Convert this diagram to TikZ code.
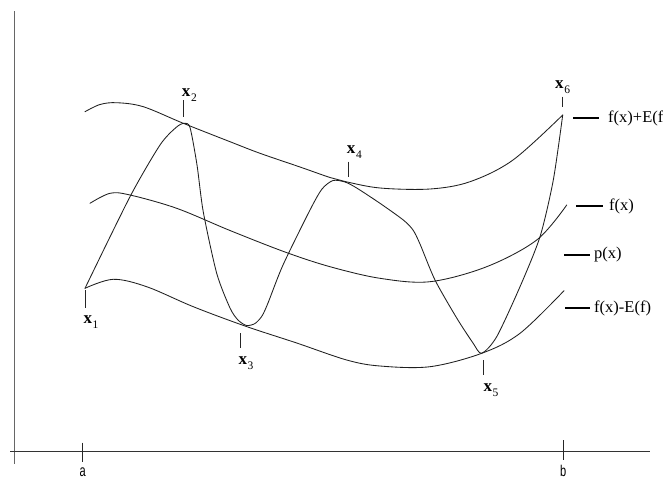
\documentclass[tikz,border=0pt]{standalone}
\usepackage{fontspec}
\setmainfont{Liberation Serif}
\newfontfamily\axisfont{Liberation Sans}
\newcommand\ptname[1]{{\fontsize{17}{17}\selectfont\bfseries x}\kern0.6pt\raisebox{-5pt}{\fontsize{11.5}{11.5}\selectfont #1}}
\begin{document}
\begin{tikzpicture}[x=1pt,y=-1pt,
  curve/.style={line width=0.85pt, draw=black!88, line join=round, line cap=round},
  tickmark/.style={line width=0.9pt, draw=black!85},
  keyline/.style={line width=1.8pt, draw=black},
  keytext/.style={anchor=west, inner sep=0pt, font=\fontsize{16.5}{18}\selectfont},
  ptlabel/.style={anchor=base west, inner sep=0pt},
  axislabel/.style={inner sep=0pt, font=\axisfont\fontsize{13}{13}\selectfont},
]
\useasboundingbox (0,0) rectangle (663,480);
\fill[white] (0,0) rectangle (663,480);

% axes
\coordinate (ytop) at (14.7,11);
\coordinate (ybot) at (14.7,464);
\coordinate (xl) at (10,451.7);
\coordinate (xr) at (650,451.7);
\draw[line width=1.5pt, draw=black!60] (ytop) -- (ybot);
\draw[line width=1.1pt, draw=black!80] (xl) -- (xr);
\coordinate (at) at (82.7,442.7); \coordinate (ab) at (82.7,461.7);
\coordinate (bt) at (563.3,440); \coordinate (bb) at (563.3,460);
\draw[tickmark] (at) -- (ab);
\draw[tickmark] (bt) -- (bb);
\node[axislabel] (la) at (82.7,472.3) {\scalebox{0.85}[1.25]{a}};
\node[axislabel] (lb) at (563.3,471) {\scalebox{0.85}[1.2]{b}};

% f(x)+E(f)
\draw[curve] plot[smooth, tension=0.55] coordinates {
  (85,111.7) (100,104.5) (116.7,102.7) (143.3,106.7) (183.3,123.3) (230,141.7)
  (260,153.3) (300,167) (330,177.5) (345,181.5) (380,188) (430,189)
  (470,181.7) (513,160) (562.7,115)};
% f(x)
\draw[curve] plot[smooth, tension=0.55] coordinates {
  (90,203.3) (110,193.3) (130,195) (176.7,208.3) (230,230.5) (285,252)
  (330,266.7) (380,278.3) (430,281.7) (486.7,266.7) (536.7,240) (566.7,205)};
% f(x)-E(f)
\draw[curve] plot[smooth, tension=0.55] coordinates {
  (85,288.3) (113.3,279.3) (146.7,286.7) (193.3,306.7) (245,326) (296.7,343)
  (346.7,360) (380,366) (430,366.7) (481.7,353.3) (520,333.3) (564,290.7)};
% p(x)
\draw[curve] plot[smooth, tension=0.45] coordinates {
  (85,288.3) (130,196.7) (160,145) (176,127.5) (184,123.3) (190,127.5)
  (197,165) (203.3,212) (216.7,273.3) (230,308) (238,320) (246.5,325.5)
  (255,323.5) (262,316) (268,303) (283,265) (310,210) (322,189) (333,180.5)
  (345,182) (356.7,188) (380,203.3) (403.3,220) (413,230) (420,244)
  (435,280) (456.7,318) (473,343) (481.7,353.3) (496.7,336.7) (520,286.7)
  (540,236.7) (553.3,180) (562.7,115)};

% points and their ticks
\coordinate (p1) at (85,290);    \coordinate (q1) at (85,308);
\coordinate (p2) at (183.3,100); \coordinate (q2) at (183.3,116.7);
\coordinate (p3) at (240,333);   \coordinate (q3) at (240,348);
\coordinate (p4) at (348.3,161.7); \coordinate (q4) at (348.3,176.7);
\coordinate (p5) at (483.3,360); \coordinate (q5) at (483.3,375);
\coordinate (p6) at (562.7,96.7); \coordinate (q6) at (562.7,107);
\foreach \i in {1,...,6} {\draw[tickmark] (p\i) -- (q\i);}
\node[ptlabel] (x1) at (83.3,323) {\ptname{1}};
\node[ptlabel] (x2) at (181.7,96) {\ptname{2}};
\node[ptlabel] (x3) at (238.3,364) {\ptname{3}};
\node[ptlabel] (x4) at (346.7,153.3) {\ptname{4}};
\node[ptlabel] (x5) at (483.3,391.7) {\ptname{5}};
\node[ptlabel] (x6) at (555,88.3) {\ptname{6}};

% key
\coordinate (k1a) at (573,118);   \coordinate (k1b) at (599,118);
\coordinate (k2a) at (576,206);   \coordinate (k2b) at (603,206);
\coordinate (k3a) at (564,255);   \coordinate (k3b) at (590,255);
\coordinate (k4a) at (565,308);   \coordinate (k4b) at (590,308);
\draw[keyline] (k1a) -- (k1b);
\draw[keyline] (k2a) -- (k2b);
\draw[keyline] (k3a) -- (k3b);
\draw[keyline] (k4a) -- (k4b);
\node[keytext] (t1) at (608,118) {f(x)+E(f)};
\node[keytext] (t2) at (609,206) {f(x)};
\node[keytext] (t3) at (594,255) {p(x)};
\node[keytext] (t4) at (594,308) {f(x)-E(f)};
\end{tikzpicture}
\end{document}
